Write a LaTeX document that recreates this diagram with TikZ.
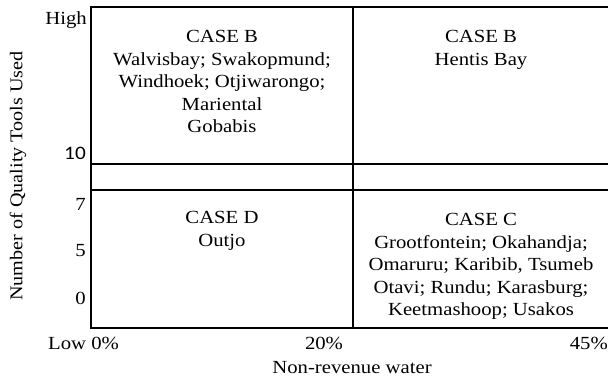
\documentclass[tikz,border=0pt]{standalone}
\usepackage{fontspec}
\setmainfont[FakeStretch=1.12]{Liberation Serif}
\newfontfamily\numfont[FakeStretch=1.12]{Carlito}
\begin{document}
\begin{tikzpicture}[x=1pt,y=-1pt,
  grid/.style={line width=1.7pt,black},
  cell/.style={align=center,font=\fontsize{18.5}{22.6}\selectfont,anchor=north,inner sep=0pt},
  lab/.style={font=\fontsize{18.5}{20}\selectfont,inner sep=0pt}]
\useasboundingbox (0,0) rectangle (608,380);
% frame
\coordinate (tl) at (91,7);
\coordinate (tr) at (608,7);
\coordinate (bl) at (91,328);
\coordinate (br) at (608,328);
\coordinate (vt) at (353,7);
\coordinate (vb) at (353,328);
\coordinate (h1l) at (91,164);
\coordinate (h1r) at (608,164);
\coordinate (h2l) at (91,190);
\coordinate (h2r) at (608,190);
\draw[grid] (tr) -- (tl) -- (bl) -- (br);
\draw[grid] (vt) -- (vb);
\draw[grid] (h1l) -- (h1r);
\draw[grid] (h2l) -- (h2r);
% cells
\node[cell] (b1) at (222,30) {CASE B\\Walvisbay; Swakopmund;\\Windhoek; Otjiwarongo;\\Mariental\\Gobabis};
\node[cell] (b2) at (481,30) {CASE B\\Hentis Bay};
\node[cell] (d) at (222,211) {CASE D\\Outjo};
\node[cell] (c) at (481,213) {CASE C\\Grootfontein; Okahandja;\\Omaruru; Karibib, Tsumeb\\Otavi; Rundu; Karasburg;\\Keetmashoop; Usakos};
% y axis labels
\node[lab,anchor=east] (high) at (87,20) {High};
\node[lab,anchor=east,font=\numfont\fontsize{19}{20}\selectfont] (y10) at (86,153) {10};
\node[lab,anchor=east] (y7) at (86,204) {7};
\node[lab,anchor=east] (y5) at (86,251) {5};
\node[lab,anchor=east] (y0) at (86,298) {0};
% x axis labels
\node[lab,anchor=west] (low) at (48,343) {Low 0\%};
\node[lab] (x20) at (324,343) {20\%};
\node[lab,anchor=east] (x45) at (608,343) {45\%};
\node[lab] (xt) at (352,368) {Non-revenue water};
\node[lab,rotate=90,font=\fontsize{18}{20}\selectfont] (yt) at (18,176) {Number of Quality Tools Used};
\end{tikzpicture}
\end{document}
